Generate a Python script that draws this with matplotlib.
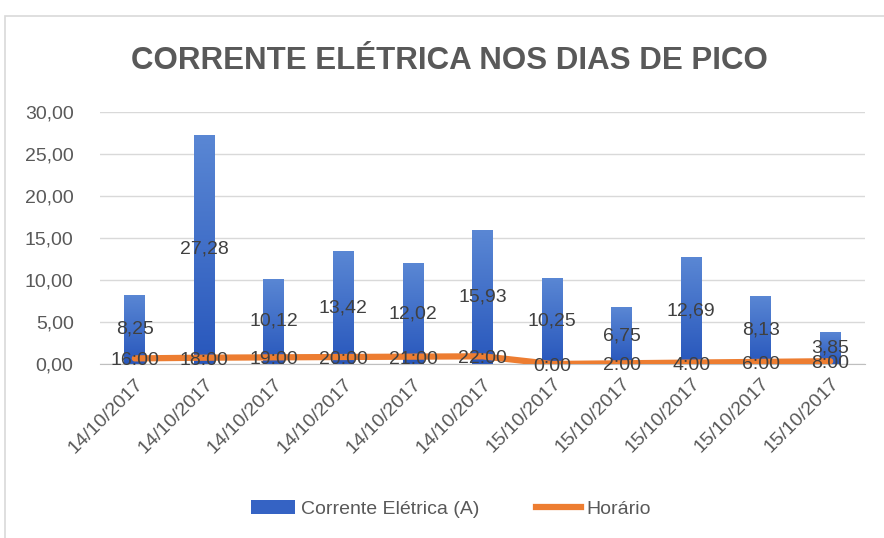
import numpy as np
import matplotlib
matplotlib.use('Agg')
import matplotlib.pyplot as plt
from matplotlib.patches import Rectangle
from matplotlib.lines import Line2D

# dados do gráfico
datas = ['14/10/2017', '14/10/2017', '14/10/2017', '14/10/2017', '14/10/2017', '14/10/2017',
         '15/10/2017', '15/10/2017', '15/10/2017', '15/10/2017', '15/10/2017']
corrente = [8.25, 27.28, 10.12, 13.42, 12.02, 15.93, 10.25, 6.75, 12.69, 8.13, 3.85]
horario_txt = ['16:00', '18:00', '19:00', '20:00', '21:00', '22:00', '0:00', '2:00', '4:00', '6:00', '8:00']
horario_val = [0.667, 0.750, 0.792, 0.833, 0.875, 0.917, 0.0, 0.083, 0.167, 0.250, 0.333]
yticks = [0, 5, 10, 15, 20, 25, 30]

plt.rcParams['font.family'] = ['Liberation Sans', 'DejaVu Sans']
TXT = '#595959'
LBL = '#404040'

fig = plt.figure(figsize=(8.84, 5.38), dpi=100)
fig.patch.set_facecolor('white')
# moldura do gráfico
fig.patches.append(Rectangle((5/884, -0.05), 1.0, 1 - 16/538 + 0.05, transform=fig.transFigure,
                             facecolor='none', edgecolor='#D9D9D9', linewidth=1.2))

ax = fig.add_axes([100/884, 1 - 364/538, 765/884, (364 - 112)/538])
x = np.arange(len(corrente))
bars = ax.bar(x, corrente, width=0.3, color='#3563C4', zorder=2)

# degradê nas barras
grad = np.linspace(0, 1, 256).reshape(-1, 1)
cmap = matplotlib.colors.LinearSegmentedColormap.from_list('g', ['#2857BC', '#5A87D4'])
for b in bars:
    im = ax.imshow(grad, cmap=cmap, origin='lower', aspect='auto', zorder=2,
                   extent=[b.get_x(), b.get_x() + b.get_width(), 0, b.get_height()])
    im.set_clip_path(b)

ax.plot(x, horario_val, color='#ED7D31', linewidth=4.5, solid_capstyle='round', zorder=3)

for xi, v in zip(x, corrente):
    ax.text(xi, v / 2, f'{v:.2f}'.replace('.', ','), ha='center', va='center',
            fontsize=14, color=LBL, zorder=4)
for xi, v, t in zip(x, horario_val, horario_txt):
    ax.text(xi, v - 0.3, t, ha='center', va='center', fontsize=14, color=LBL, zorder=4)

ax.set_xlim(-0.5, len(corrente) - 0.5)
ax.set_ylim(0, 30)
ax.set_yticks(yticks)
ax.set_yticklabels([f'{t:.2f}'.replace('.', ',') for t in yticks], fontsize=14, color=TXT)
ax.set_xticks(x)
ax.set_xticklabels(datas, rotation=45, ha='right', rotation_mode='anchor', fontsize=14, color=TXT)
ax.tick_params(axis='both', length=0)
ax.tick_params(axis='x', pad=8)
ax.tick_params(axis='y', pad=19)
ax.grid(axis='y', color='#D9D9D9', linewidth=1, zorder=0)
for s in ['top', 'right', 'left']:
    ax.spines[s].set_visible(False)
ax.spines['bottom'].set_color('#BFBFBF')
ax.set_axisbelow(True)

fig.text(0.508, 1 - 61/538, 'CORRENTE ELÉTRICA NOS DIAS DE PICO', ha='center', va='center',
         fontsize=22.5, fontweight='bold', color=TXT)

handles = [Rectangle((0, 0), 1, 1, facecolor='#3563C4'),
           Line2D([0], [0], color='#ED7D31', linewidth=4.5)]
fig.legend(handles, ['Corrente Elétrica (A)', 'Horário'], loc='center',
           bbox_to_anchor=(0.51, 1 - 509/538), ncol=2, frameon=False, fontsize=14,
           labelcolor=TXT, handlelength=2.3, columnspacing=2.9, handletextpad=0.3)

fig.savefig('out.png', dpi=100)
